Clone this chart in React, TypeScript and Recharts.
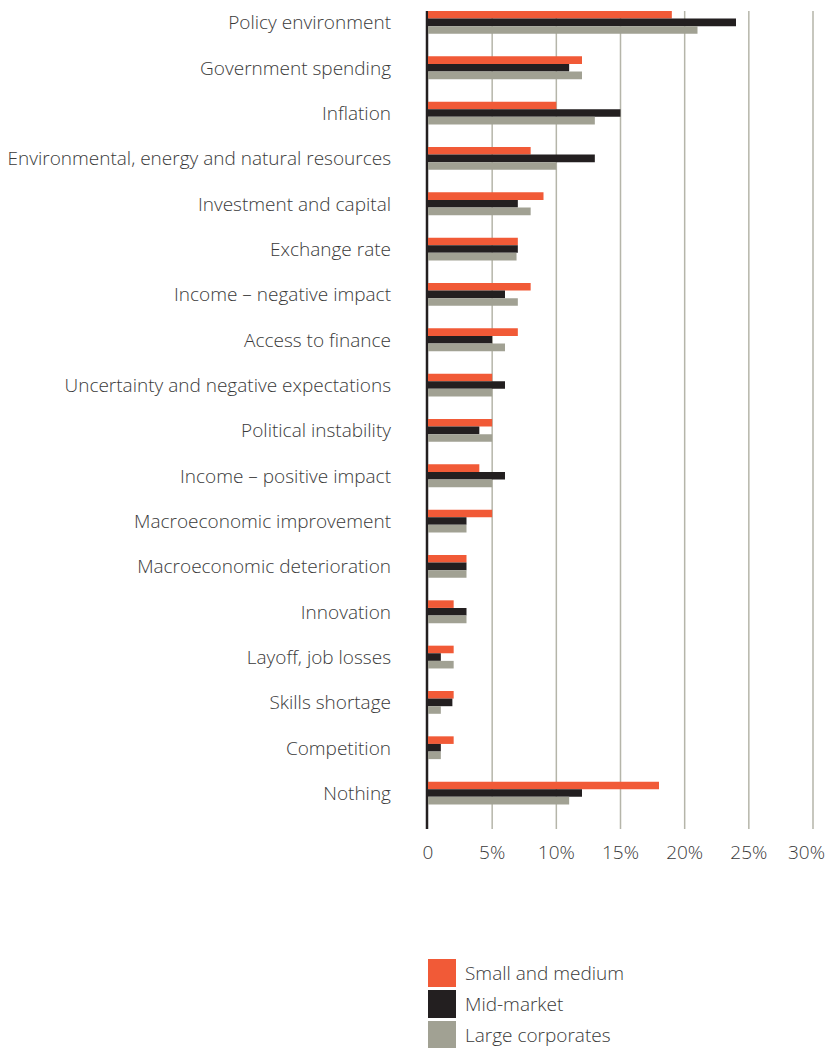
import React from "react";
import {
  BarChart,
  Bar,
  XAxis,
  YAxis,
  CartesianGrid,
} from "recharts";

// ── Data ────────────────────────────────────────────────

const CATEGORIES = [
  "Policy environment",
  "Government spending",
  "Inflation",
  "Environmental, energy and natural resources",
  "Investment and capital",
  "Exchange rate",
  "Income – negative impact",
  "Access to finance",
  "Uncertainty and negative expectations",
  "Political instability",
  "Income – positive impact",
  "Macroeconomic improvement",
  "Macroeconomic deterioration",
  "Innovation",
  "Layoff, job losses",
  "Skills shortage",
  "Competition",
  "Nothing",
];

const SMALL_MEDIUM = [19, 12, 10, 8, 9, 7, 8, 7, 5, 5, 4, 5, 3, 2, 2, 2, 2, 18];
const MID_MARKET = [24, 11, 15, 13, 7, 7, 6, 5, 6, 4, 6, 3, 3, 3, 1, 1.9, 1, 12];
const LARGE_CORP = [21, 12, 13, 10, 8, 6.9, 7, 6, 5, 5, 5, 3, 3, 3, 2, 1, 1, 11];

const X_TICKS = [0, 5, 10, 15, 20, 25, 30];

const SERIES = [
  { key: "small", name: "Small and medium", color: "#f15a37" },
  { key: "mid", name: "Mid-market", color: "#231f20" },
  { key: "large", name: "Large corporates", color: "#a1a193" },
];

const data = CATEGORIES.map((name, i) => ({
  name,
  small: SMALL_MEDIUM[i],
  mid: MID_MARKET[i],
  large: LARGE_CORP[i],
}));

// ── Styles ──────────────────────────────────────────────

const FONT = "'Open Sans', sans-serif";
const TEXT = "#3a3a3a";
const FS = 19;

function GridLine(props: any) {
  const { x1, y1, x2, y2, index } = props;
  if (index === 0) {
    return (
      <line x1={x1 - 1} y1={y1} x2={x2 - 1} y2={y2} stroke="#231f20" strokeWidth={2.5} />
    );
  }
  return <line x1={x1} y1={y1} x2={x2} y2={y2} stroke="#b5b5a9" strokeWidth={1.5} />;
}

function XTick(props: any) {
  const { x, y, payload, index } = props;
  const last = index === X_TICKS.length - 1;
  const v = payload.value;
  return (
    <text
      x={last ? x + 12 : x}
      y={y}
      dy="0.71em"
      textAnchor={last ? "end" : "middle"}
      fill={TEXT}
      fontSize={FS}
      fontFamily={FONT}
      fontWeight={300}
    >
      {v === 0 ? "0" : `${v}%`}
    </text>
  );
}

export default function App() {
  return (
    <div
      style={{
        position: "absolute",
        left: 0,
        top: 0,
        width: 826,
        height: 1048,
        background: "#fff",
        fontFamily: FONT,
      }}
    >
      <BarChart
        width={826}
        height={1048}
        data={data}
        layout="vertical"
        margin={{ top: 0, right: 13, bottom: 192, left: 0 }}
        barGap={0}
      >
        <CartesianGrid
          horizontal={false}
          vertical={GridLine}
          y={11}
          height={818}
        />
        <XAxis
          type="number"
          domain={[0, 30]}
          ticks={X_TICKS}
          interval={0}
          height={40}
          axisLine={false}
          tickLine={false}
          tickSize={0}
          tickMargin={30}
          tick={<XTick />}
        />
        <YAxis
          type="category"
          dataKey="name"
          width={428}
          interval={0}
          axisLine={false}
          tickLine={false}
          tickSize={0}
          tickMargin={37}
          tick={{ fill: TEXT, fontSize: FS, fontFamily: FONT, fontWeight: 300 }}
        />
        {SERIES.map((s) => (
          <Bar
            key={s.key}
            dataKey={s.key}
            name={s.name}
            fill={s.color}
            barSize={7.6}
            isAnimationActive={false}
          />
        ))}
      </BarChart>

      {/* legend */}
      <div style={{ position: "absolute", left: 428, top: 959 }}>
        {SERIES.map((s) => (
          <div
            key={s.key}
            style={{ display: "flex", alignItems: "center", height: 28, marginBottom: 3 }}
          >
            <div style={{ width: 28, height: 28, background: s.color }} />
            <span
              style={{
                marginLeft: 9,
                fontSize: FS,
                fontWeight: 300,
                color: TEXT,
              }}
            >
              {s.name}
            </span>
          </div>
        ))}
      </div>
    </div>
  );
}
